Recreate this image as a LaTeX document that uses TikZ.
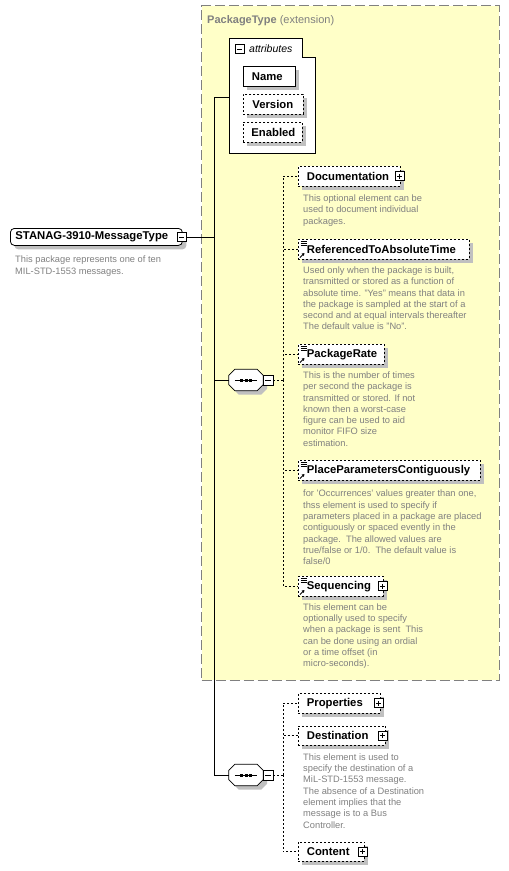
\documentclass[tikz,border=0pt]{standalone}
\usepackage{fontspec}
\setmainfont{Liberation Sans}
\usetikzlibrary{shadows,arrows.meta}
\definecolor{yellowbg}{RGB}{255,255,200}
\definecolor{descgray}{RGB}{128,128,128}
\definecolor{shadowgray}{RGB}{192,192,192}
\definecolor{bordergray}{RGB}{128,128,128}
\tikzset{
  ptbox/.style={draw=bordergray, fill=yellowbg, dash pattern=on 10pt off 4pt, line width=1.4pt, inner sep=0pt},
  shad/.style={drop shadow={fill=shadowgray, opacity=1, shadow xshift=4pt, shadow yshift=-4pt}},
  elbox/.style={draw, fill=white, dash pattern=on 2pt off 2pt, line width=.8pt, shad,
    minimum height=19.5pt, inner xsep=0pt, inner ysep=0pt, align=left, anchor=north west,
    font=\bfseries\fontsize{11.3}{13}\selectfont},
  elboxns/.style={elbox, drop shadow={opacity=0}},
  attrbox/.style={elbox, minimum height=20pt},
  globalel/.style={draw, fill=white, line width=.8pt, rounded corners=4pt, shad,
    minimum height=17pt, inner xsep=0pt, inner ysep=0pt, align=left, anchor=north west,
    font=\bfseries\fontsize{11.3}{13}\selectfont},
  desc/.style={anchor=north west, inner sep=0pt, align=left, text=descgray,
    font=\fontsize{9.3}{11.3}\selectfont},
  minusbox/.style={draw, fill=white, minimum size=9pt, inner sep=0pt, line width=.7pt,
    path picture={\draw[line width=.7pt] ([xshift=2pt]path picture bounding box.west) -- ([xshift=-2pt]path picture bounding box.east);}},
  compframe/.style={minimum width=34pt, minimum height=21pt, inner sep=0pt},
  conn/.style={line width=.8pt},
  dconn/.style={line width=.8pt, dash pattern=on 2pt off 2pt},
}
\newcommand\plusmark[1]{\draw[line width=.7pt] ([yshift=2.5pt]#1.south) -- ([yshift=-2.5pt]#1.north);}
\newcommand\elicon[1]{%
  \foreach \dy in {2,4,6} \draw[line width=.6pt] ([xshift=2.5pt,yshift=-\dy pt]#1.north west) -- ++(6,0);
  \draw[line width=.9pt, -{Triangle[length=2.6pt,width=3pt]}] ([xshift=2pt,yshift=1.8pt]#1.south west) -- ++(4.5,-4.5);}
\newcommand\octpath[2]{% #1 node, #2 extra shift
  ([xshift=6pt,#2]#1.north west) -- ([xshift=-6pt,#2]#1.north east) -- ([yshift=-6pt,#2]#1.north east) --
  ([yshift=6pt,#2]#1.south east) -- ([xshift=-6pt,#2]#1.south east) -- ([xshift=6pt,#2]#1.south west) --
  ([yshift=6pt,#2]#1.south west) -- ([yshift=-6pt,#2]#1.north west) -- cycle}
\newcommand\compdraw[1]{%
  \fill[shadowgray] \octpath{#1}{xshift=4pt,yshift=-4pt};
  \draw[fill=white, line width=.8pt] \octpath{#1}{xshift=0pt};
  \draw[line width=.8pt] ([xshift=6pt]#1.west) -- ([xshift=-6pt]#1.east);
  \foreach \dx in {-4.5,0,4.5} \fill ([xshift=\dx pt]#1.center) ++(-1.5,-1.5) rectangle ++(3,3);}
\begin{document}
\begin{tikzpicture}[x=1pt,y=-1pt]
\useasboundingbox (0,0) rectangle (509,871);
% container
\node[ptbox, anchor=north west, minimum width=297.5pt, minimum height=674.5pt] (pt) at (201,5) {};
\node[anchor=base west, inner sep=0pt, text=descgray, font=\fontsize{11}{13}\selectfont] (pttitle) at (207,23) {\textbf{PackageType} (extension)};
% attributes group
\draw[fill=white, line width=.8pt] (229,38) -- (302,38) -- (302,57) -- (315,57) -- (315,153) -- (229,153) -- cycle;
\coordinate (attrL) at (229,97);
\node[minusbox] (attrm) at (239.5,49) {};
\node[anchor=base west, inner sep=0pt, font=\itshape\fontsize{10.5}{12}\selectfont] (attrlabel) at (249,52) {attributes};
\node[attrbox, solid, text width=52pt] (aname) at (243,66) {\hspace*{8.5pt}Name};
\node[attrbox, text width=60pt] (aversion) at (243,94) {\hspace*{9pt}Version};
\node[attrbox, text width=59pt] (aenabled) at (243,122) {\hspace*{8pt}Enabled};
% root element
\node[globalel, text width=172pt] (stanag) at (10,228) {\hspace*{5pt}STANAG-3910-MessageType};
\node[minusbox] (stanagm) at (181.5,237) {};
\node[desc] (stanagd) at (15,256) {This package represents one of ten\\MIL-STD-1553 messages.};
% compositors
\node[compframe] (seqa) at (246,380) {};
\compdraw{seqa}
\node[minusbox, minimum size=10pt] (seqam) at (268,380) {};
\node[compframe] (seqb) at (246,775) {};
\compdraw{seqb}
\node[minusbox, minimum size=10pt] (seqbm) at (268,775) {};
\coordinate (busa) at (283,380);
\coordinate (busb) at (283,775);
% children of first sequence
\node[elboxns, text width=102pt] (doc) at (298,166) {\hspace*{8.5pt}Documentation};
\node[minusbox] (docp) at ([xshift=-1pt]doc.east) {}; \plusmark{docp}
\node[desc] (docd) at (303,194.5) {This optional element can be\\used to document individual\\packages.};
\node[elbox, text width=171pt] (reft) at (298,239) {\hspace*{8.5pt}ReferencedToAbsoluteTime};
\elicon{reft}
\node[desc] (reftd) at (303,266.5) {Used only when the package is built,\\transmitted or stored as a function of\\absolute time. "Yes" means that data in\\the package is sampled at the start of a\\second and at equal intervals thereafter\\The default value is "No".};
\node[elbox, text width=86pt] (prate) at (298,344) {\hspace*{8.5pt}PackageRate};
\elicon{prate}
\node[desc] (prated) at (303,371.5) {This is the number of times\\per second the package is\\transmitted or stored. If not\\known then a worst-case\\figure can be used to aid\\monitor FIFO size\\estimation.};
\node[elbox, text width=182pt] (ppc) at (298,460) {\hspace*{8.5pt}PlaceParametersContiguously};
\elicon{ppc}
\node[desc] (ppcd) at (303,490) {for 'Occurrences' values greater than one,\\thss element is used to specify if\\parameters placed in a package are placed\\contiguously or spaced evently in the\\package.\ \ The allowed values are\\true/false or 1/0.\ \ The default value is\\false/0};
\node[elbox, text width=85pt] (seqn) at (298,576) {\hspace*{8.5pt}Sequencing};
\elicon{seqn}
\node[minusbox] (seqnp) at ([xshift=-1pt]seqn.east) {}; \plusmark{seqnp}
\node[desc] (seqnd) at (303,603.3) {This element can be\\optionally used to specify\\when a package is sent\ \ This\\can be done using an ordial\\or a time offset (in\\micro-seconds).};
% children of second sequence
\node[elbox, text width=82pt] (props) at (298,693) {\hspace*{8.5pt}Properties};
\node[minusbox] (propsp) at ([xshift=-2pt]props.east) {}; \plusmark{propsp}
\node[elbox, text width=87pt] (dest) at (298,725.5) {\hspace*{8.5pt}Destination};
\node[minusbox] (destp) at ([xshift=-3pt]dest.east) {}; \plusmark{destp}
\node[desc] (destd) at (303,753.3) {This element is used to\\specify the destination of a\\MiL-STD-1553 message.\\The absence of a Destination\\element implies that the\\message is to a Bus\\Controller.};
\node[elbox, text width=66pt] (content) at (298,841.5) {\hspace*{8.5pt}Content};
\node[minusbox] (contentp) at ([xshift=-2pt]content.east) {}; \plusmark{contentp}
% connectors
\coordinate (trunk) at (214.5,237);
\draw[conn] (stanagm.east) -- (trunk);
\draw[conn] (trunk) |- (attrL);
\draw[conn] (trunk) |- (seqa.west);
\draw[conn] (trunk) |- (seqb.west);
\draw[dconn] (seqam.east) -- (busa);
\draw[dconn] (seqbm.east) -- (busb);
\foreach \n in {doc,reft,prate,ppc,seqn} \draw[dconn] (busa) |- (\n.west);
\foreach \n in {props,dest,content} \draw[dconn] (busb) |- (\n.west);
\end{tikzpicture}
\end{document}
